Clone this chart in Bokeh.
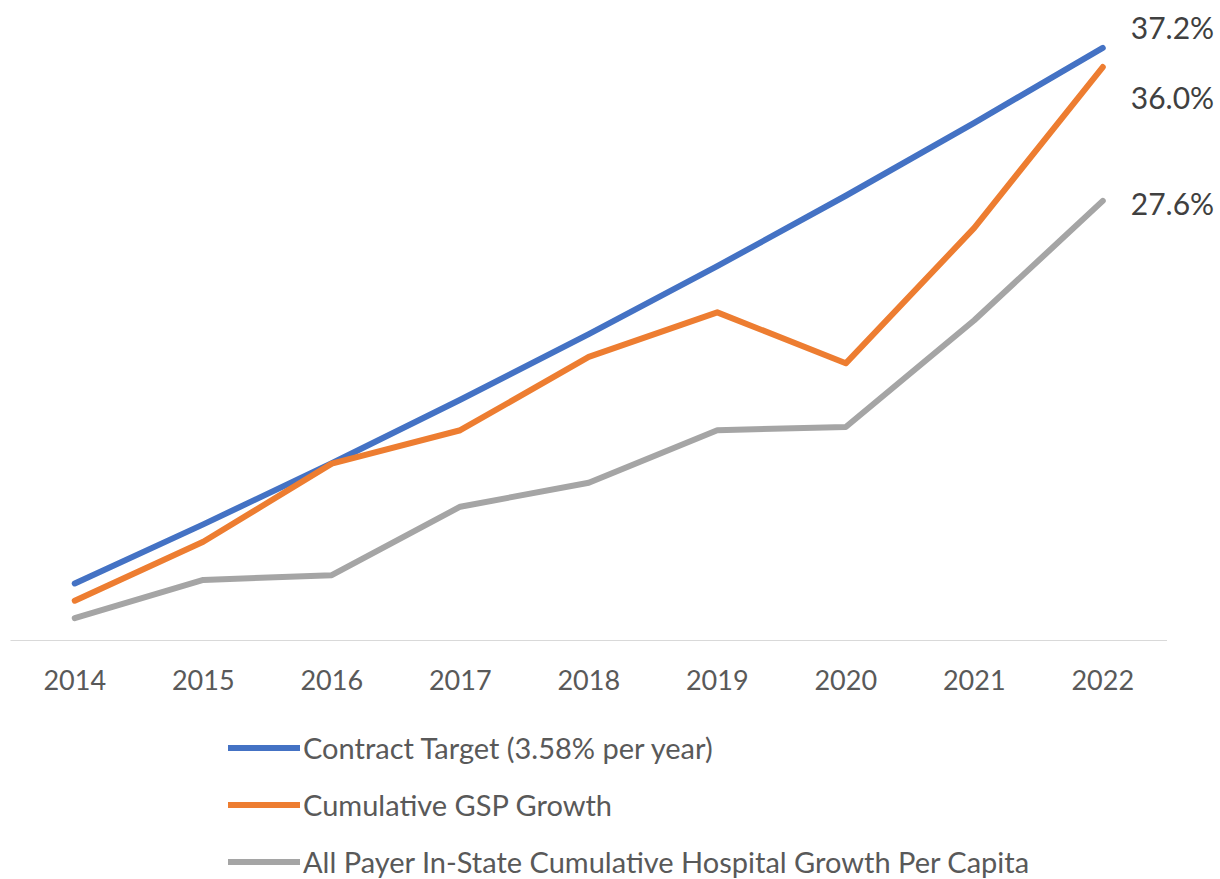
from bokeh.plotting import figure
from bokeh.layouts import column
from bokeh.models import Legend, LegendItem, FixedTicker, Range1d, ColumnDataSource
from bokeh.core.properties import value
from bokeh.embed import file_html
from bokeh.resources import INLINE

# ---- data ----
years = ["2014", "2015", "2016", "2017", "2018", "2019", "2020", "2021", "2022"]
contract_target = [3.58, 7.29, 11.13, 15.11, 19.23, 23.50, 27.92, 32.50, 37.2]
gsp_growth = [2.5, 6.2, 11.1, 13.2, 17.8, 20.6, 17.4, 25.9, 36.0]
hospital_growth = [1.4, 3.8, 4.1, 8.4, 9.9, 13.2, 13.4, 20.1, 27.6]
series_names = [
    "Contract Target (3.58% per year)",
    "Cumulative GSP Growth",
    "All Payer In-State Cumulative Hospital Growth Per Capita",
]

# ---- style ----
colors = ["#4472C4", "#ED7D31", "#A5A5A5"]
label_y_offsets = [-21, 30, 2]
FONT = "Lato"

idx = list(range(len(years)))
p = figure(
    width=1216, height=705, output_backend="svg", toolbar_location=None,
    x_range=Range1d(-0.5778, 8.885), y_range=Range1d(-0.0628, 40.177),
    y_axis_location=None,
    min_border_left=0, min_border_right=0, min_border_top=0, min_border_bottom=64,
    outline_line_color=None,
)
p.grid.visible = False

# baseline (category axis line)
p.line(x=[-0.5, len(years) - 0.5], y=[0, 0], line_color="#D9D9D9", line_width=1)

renderers = []
for vals, col in zip([contract_target, gsp_growth, hospital_growth], colors):
    src = ColumnDataSource(dict(x=idx, y=vals))
    r = p.line("x", "y", source=src, line_color=col, line_width=6,
               line_join="round", line_cap="round")
    renderers.append(r)

# end-point data labels
last_vals = [contract_target[-1], gsp_growth[-1], hospital_growth[-1]]
lab_src = ColumnDataSource(dict(
    x=[idx[-1]] * 3, y=last_vals,
    text=[f"{v:.1f}%" for v in last_vals],
    yo=label_y_offsets,
))
p.text("x", "y", text="text", source=lab_src, x_offset=28, y_offset="yo",
       text_font=value(FONT), text_font_size="30px", text_color="#404040",
       text_align="left", text_baseline="middle")

# x axis
ax = p.xaxis[0]
ax.ticker = FixedTicker(ticks=idx)
ax.major_label_overrides = {i: y for i, y in zip(idx, years)}
ax.major_label_text_font = FONT
ax.major_label_text_font_size = "27px"
ax.major_label_text_color = "#595959"
ax.axis_line_color = None
ax.major_tick_line_color = None
ax.minor_tick_line_color = None
ax.major_tick_out = 0
ax.major_tick_in = 0
ax.major_label_standoff = 28

# ---- legend panel (separate figure below the chart) ----
p2 = figure(
    width=1216, height=174, output_backend="svg", toolbar_location=None,
    x_range=Range1d(0, 1), y_range=Range1d(0, 1),
    x_axis_location=None, y_axis_location=None,
    min_border_left=0, min_border_right=0, min_border_top=0, min_border_bottom=0,
    outline_line_color=None,
)
p2.grid.visible = False
# key-only renderers: a single point outside the visible range (draws nothing)
key_renderers = [
    p2.line(x=[-5], y=[-5], line_color=col, line_width=6, line_cap="round")
    for col in colors
]
legend = Legend(
    items=[LegendItem(label=n, renderers=[r]) for n, r in zip(series_names, key_renderers)],
    location=(228, 0), orientation="vertical",
    glyph_width=72, glyph_height=35, label_height=35, spacing=22,
    label_standoff=3, padding=0, margin=0,
    label_text_font=FONT, label_text_font_size="29px", label_text_color="#595959",
    border_line_color=None, background_fill_alpha=0,
)
p2.add_layout(legend, "center")

layout = column(p, p2, spacing=0)
open("out.html", "w").write(file_html(layout, INLINE))
